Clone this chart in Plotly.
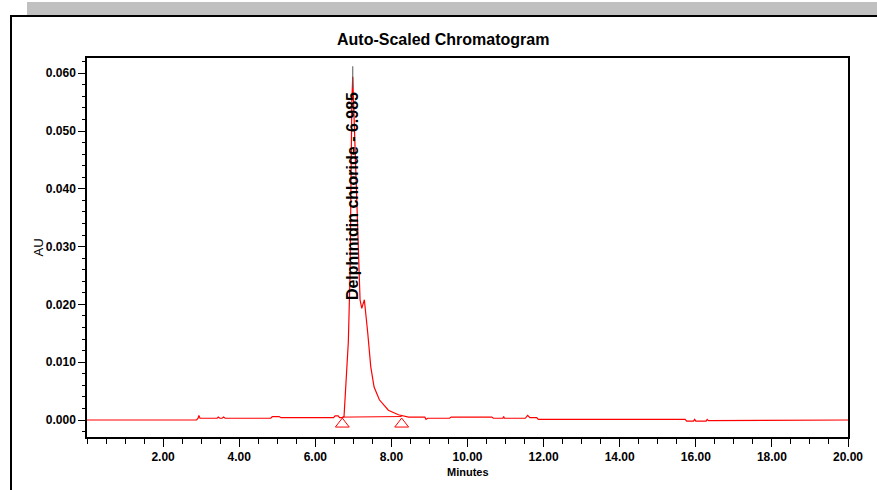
import plotly.graph_objects as go

# ---- data ----
time_min = [0.0, 2.88, 2.92, 2.94, 2.97, 3.42, 3.45, 3.49, 3.55, 3.59, 3.63,
            4.83, 4.87, 5.05, 5.10, 6.48, 6.52, 6.60, 6.64, 6.70, 6.755, 6.79,
            6.826, 6.868, 6.913, 6.932, 6.96, 6.984, 7.018, 7.06, 7.10, 7.13,
            7.15, 7.176, 7.221, 7.26, 7.289, 7.379, 7.458, 7.545, 7.684, 7.921,
            8.184, 8.45, 8.88, 8.91, 8.95, 9.53, 9.57, 10.64, 10.68, 10.93,
            10.95, 10.97, 11.52, 11.58, 11.64, 11.82, 11.86, 15.72, 15.76,
            15.94, 15.97, 16.0, 16.27, 16.30, 16.33, 20.0]
absorbance = [0.0, 0.0, 0.0003, 0.0008, 0.0003, 0.0003, 0.0005, 0.0003, 0.0003,
              0.0005, 0.0003, 0.0003, 0.0006, 0.0006, 0.0004, 0.0004, 0.0007,
              0.0007, 0.0004, 0.0004, 0.0006, 0.004, 0.009, 0.0135, 0.025,
              0.040, 0.055, 0.0594, 0.053, 0.045, 0.038, 0.030, 0.025, 0.0208,
              0.0193, 0.0203, 0.0208, 0.015, 0.0092, 0.0057, 0.0035, 0.0017,
              0.0009, 0.0005, 0.0005, 0.0001, 0.0003, 0.0003, 0.0005, 0.0005,
              0.0003, 0.0003, 0.0006, 0.0003, 0.0003, 0.0008, 0.0004, 0.0004,
              0.0001, 0.0001, -0.0002, -0.0002, 0.0001, -0.0002, -0.0002,
              0.0001, -0.0001, 0.0]

peak_name = "Delphinidin chloride"
peak_rt = 6.985
peak_apex = 0.0594
peak_marker_top = 0.0612
peak_label_y = 0.0387

# integration baseline start/end
base_times = [6.71, 8.27]
base_levels = [0.0005, 0.0006]
marker_levels = [-0.0007, -0.0007]

x_tick_vals = [2, 4, 6, 8, 10, 12, 14, 16, 18, 20]
x_tick_text = ["2.00", "4.00", "6.00", "8.00", "10.00", "12.00", "14.00",
               "16.00", "18.00", "20.00"]
x_range = [0, 20]
y_range = [-0.00294, 0.06263]

RED = "#ff0000"
FONT = "Liberation Sans, Arial, sans-serif"

fig = go.Figure()

fig.add_trace(go.Scatter(x=time_min, y=absorbance, mode="lines",
                         line=dict(color=RED, width=1.2), hoverinfo="skip"))
fig.add_trace(go.Scatter(x=base_times, y=base_levels, mode="lines",
                         line=dict(color=RED, width=1), hoverinfo="skip"))
fig.add_trace(go.Scatter(x=base_times, y=marker_levels, mode="markers",
                         marker=dict(symbol="triangle-up-open", size=12,
                                     color=RED, line=dict(color=RED, width=1)),
                         hoverinfo="skip"))
# apex marker line
fig.add_trace(go.Scatter(x=[peak_rt, peak_rt], y=[peak_apex - 0.002, peak_marker_top],
                         mode="lines", line=dict(color="#555555", width=1),
                         hoverinfo="skip"))

W, H = 877, 490
L, R, T, B = 87, 29, 58, 53
pw, ph = W - L - R, H - T - B


def px(xp):
    return (xp - L) / pw


def py(yp):
    return (H - B - yp) / ph


shapes = [
    # grey band at top of window
    dict(type="rect", xref="paper", yref="paper", x0=px(27), x1=px(880),
         y0=py(15), y1=py(2), fillcolor="#c0c0c0", line=dict(width=0), layer="below"),
    # black outer frame top
    dict(type="line", xref="paper", yref="paper", x0=px(10), x1=px(880),
         y0=py(16), y1=py(16), line=dict(color="black", width=2)),
    # black outer frame left
    dict(type="line", xref="paper", yref="paper", x0=px(11), x1=px(11),
         y0=py(16), y1=py(495), line=dict(color="black", width=2)),
]

annotations = [
    dict(text="Auto-Scaled Chromatogram", xref="paper", yref="paper",
         x=px(443), y=py(39.5), showarrow=False, xanchor="center", yanchor="middle",
         font=dict(family=FONT, size=16, color="black", weight="bold")),
    dict(text="AU", xref="paper", yref="paper", x=px(38), y=0.5, textangle=-90,
         showarrow=False, xanchor="center", yanchor="middle",
         font=dict(family=FONT, size=13, color="black")),
    dict(text="Minutes", xref="paper", yref="paper", x=0.5, y=py(471.7),
         showarrow=False, xanchor="center", yanchor="middle",
         font=dict(family=FONT, size=11, color="black", weight="bold")),
    dict(text=f"{peak_name} - {peak_rt:.3f}", xref="x", yref="y", x=peak_rt,
         y=peak_label_y, textangle=-90, showarrow=False, xanchor="center",
         yanchor="middle", font=dict(family=FONT, size=16, color="black",
                                     weight="bold")),
]

fig.update_layout(
    width=W, height=H,
    margin=dict(l=L, r=R, t=T, b=B, pad=0),
    paper_bgcolor="white", plot_bgcolor="white",
    showlegend=False,
    shapes=shapes,
    annotations=annotations,
    xaxis=dict(range=x_range, tickmode="array", tickvals=x_tick_vals,
               ticktext=x_tick_text, ticks="outside", ticklen=8, tickwidth=1,
               tickcolor="black", showgrid=False, zeroline=False,
               showline=True, linecolor="black", linewidth=1.5, mirror=True,
               tickfont=dict(family=FONT, size=12, color="black", weight="bold"),
               minor=dict(tickmode="linear", tick0=0, dtick=0.5, ticks="outside",
                          ticklen=5, tickcolor="black", showgrid=False)),
    yaxis=dict(range=y_range, tickmode="linear", tick0=0, dtick=0.01,
               tickformat=".3f", ticks="outside", ticklen=7, tickwidth=1,
               tickcolor="black", showgrid=False, zeroline=False,
               showline=True, linecolor="black", linewidth=1.5, mirror=True,
               tickfont=dict(family=FONT, size=12, color="black", weight="bold"),
               minor=dict(tickmode="linear", tick0=0, dtick=0.002, ticks="outside",
                          ticklen=3, tickcolor="black", showgrid=False)),
)

fig.write_html("out.html",
               config={"displayModeBar": False},
               post_script="document.body.style.margin='0';"
                           "document.body.style.overflow='hidden';")
